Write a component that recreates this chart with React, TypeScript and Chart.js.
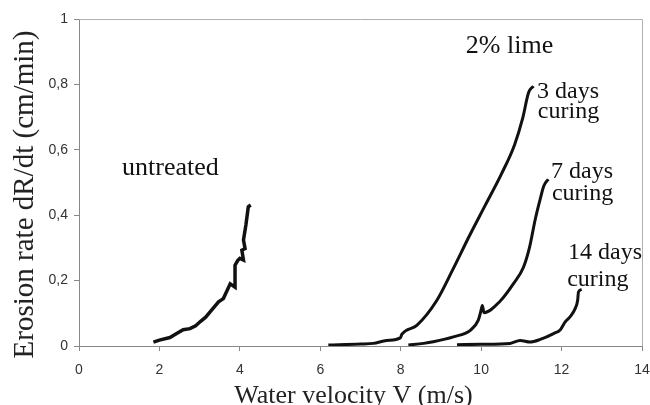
import React, { useEffect, useRef } from "react";
import { Chart, registerables } from "chart.js";

Chart.register(...registerables);

// ---- data ----
const untreatedV = [1.85, 2.0, 2.26, 2.45, 2.59, 2.76, 2.9, 3.01, 3.15, 3.26, 3.47, 3.59, 3.76, 3.88, 3.88, 3.95, 4.0, 4.09, 4.05, 4.13, 4.09, 4.15, 4.21, 4.27];
const untreatedRate = [0.012, 0.018, 0.026, 0.04, 0.05, 0.053, 0.062, 0.074, 0.088, 0.104, 0.135, 0.145, 0.19, 0.18, 0.247, 0.262, 0.268, 0.263, 0.293, 0.298, 0.324, 0.37, 0.426, 0.431];

const days3V = [6.2, 7.0, 7.32, 7.65, 7.99, 8.03, 8.4, 8.9, 9.3, 9.7, 10.1, 10.5, 10.83, 11.03, 11.18, 11.3];
const days3Rate = [0.003, 0.006, 0.008, 0.017, 0.025, 0.036, 0.063, 0.14, 0.235, 0.335, 0.43, 0.525, 0.615, 0.695, 0.775, 0.795];

const days7V = [8.19, 8.57, 8.81, 9.31, 9.73, 9.93, 9.99, 10.03, 10.07, 10.47, 10.8, 11.05, 11.2, 11.35, 11.47, 11.56, 11.67];
const days7Rate = [0.003, 0.008, 0.013, 0.028, 0.048, 0.079, 0.105, 0.124, 0.102, 0.137, 0.19, 0.24, 0.3, 0.39, 0.45, 0.49, 0.51];

const days14V = [9.4, 10.0, 10.72, 10.97, 11.22, 11.47, 11.8, 11.97, 12.09, 12.21, 12.34, 12.4, 12.42, 12.5];
const days14Rate = [0.004, 0.005, 0.008, 0.017, 0.012, 0.02, 0.038, 0.05, 0.074, 0.089, 0.115, 0.14, 0.165, 0.173];

const xTicks = [0, 2, 4, 6, 8, 10, 12, 14];
const yTickLabels = ["0", "0,2", "0,4", "0,6", "0,8", "1"];

const xTitle = "Water velocity V (m/s)";
const yTitle = "Erosion rate dR/dt (cm/min)";

// annotation texts with their anchor in data coordinates (left, baseline)
const noteTexts = ["untreated", "2% lime", "3 days", "curing", "7 days", "curing", "14 days", "curing"];
const noteX = [1.07, 9.62, 11.39, 11.41, 11.74, 11.76, 12.16, 12.14];
const noteY = [0.522, 0.897, 0.759, 0.698, 0.514, 0.446, 0.266, 0.183];
const noteSizes = [26, 26, 24, 24, 24, 24, 24, 24];

const toPoints = (xs: number[], ys: number[]) => xs.map((x, i) => ({ x, y: ys[i] }));

const SERIF = "'Liberation Serif', 'DejaVu Serif', serif";
const SANS = "'Liberation Sans', Arial, sans-serif";

const textPlugin = {
  id: "textPlugin",
  afterDraw(chart: any) {
    const { ctx, chartArea, scales } = chart;
    ctx.save();
    // plot box (top and right border)
    ctx.strokeStyle = "#b0b0b0";
    ctx.lineWidth = 1;
    ctx.beginPath();
    ctx.moveTo(chartArea.left, chartArea.top + 0.5);
    ctx.lineTo(chartArea.right + 0.5, chartArea.top + 0.5);
    ctx.lineTo(chartArea.right + 0.5, chartArea.bottom);
    ctx.stroke();

    ctx.fillStyle = "#111";
    ctx.textBaseline = "alphabetic";
    ctx.textAlign = "left";
    noteTexts.forEach((t, i) => {
      ctx.font = `${noteSizes[i]}px ${SERIF}`;
      ctx.fillText(t, scales.x.getPixelForValue(noteX[i]), scales.y.getPixelForValue(noteY[i]));
    });

    // axis titles
    ctx.fillStyle = "#222";
    ctx.font = `26px ${SERIF}`;
    ctx.textAlign = "center";
    ctx.fillText(xTitle, (chartArea.left + chartArea.right) / 2 - 7, chartArea.bottom + 57);

    ctx.translate(33, (chartArea.top + chartArea.bottom) / 2 + 12);
    ctx.rotate(-Math.PI / 2);
    ctx.font = `29px ${SERIF}`;
    ctx.fillText(yTitle, 0, 0);
    ctx.restore();
  },
};

export default function App() {
  const ref = useRef<HTMLCanvasElement | null>(null);

  useEffect(() => {
    document.body.style.margin = "0";
    if (!ref.current) return;
    const lineStyle = {
      borderColor: "#111",
      borderWidth: 3,
      pointRadius: 0,
      showLine: true,
      fill: false,
    };
    const chart = new Chart(ref.current, {
      type: "scatter",
      data: {
        datasets: [
          { label: "untreated", data: toPoints(untreatedV, untreatedRate), ...lineStyle, borderWidth: 3.5, tension: 0 },
          { label: "3 days curing", data: toPoints(days3V, days3Rate), ...lineStyle, cubicInterpolationMode: "monotone" },
          { label: "7 days curing", data: toPoints(days7V, days7Rate), ...lineStyle, cubicInterpolationMode: "monotone" },
          { label: "14 days curing", data: toPoints(days14V, days14Rate), ...lineStyle, cubicInterpolationMode: "monotone" },
        ],
      },
      options: {
        animation: false,
        responsive: false,
        devicePixelRatio: 1,
        layout: { padding: { top: 19, right: 8, left: 0, bottom: 0 } },
        plugins: { legend: { display: false }, tooltip: { enabled: false }, title: { display: false } },
        scales: {
          x: {
            type: "linear",
            min: 0,
            max: 14,
            afterBuildTicks: (axis: any) => {
              axis.ticks = xTicks.map((v) => ({ value: v }));
            },
            afterFit: (axis: any) => {
              axis.height = 59;
              axis.paddingRight = 0;
              axis.paddingLeft = 0;
            },
            grid: { display: true, drawOnChartArea: false, drawTicks: true, tickLength: 5, color: "#888" },
            border: { display: true, color: "#888" },
            ticks: { color: "#333", font: { family: SANS, size: 14 }, padding: 11, maxRotation: 0 },
          },
          y: {
            type: "linear",
            min: 0,
            max: 1,
            afterBuildTicks: (axis: any) => {
              axis.ticks = yTickLabels.map((_, i) => ({ value: i * 0.2 }));
            },
            afterFit: (axis: any) => {
              axis.width = 79;
              axis.paddingTop = 0;
              axis.paddingBottom = 0;
            },
            grid: { display: true, drawOnChartArea: false, drawTicks: true, tickLength: 5, color: "#888" },
            border: { display: true, color: "#888" },
            ticks: {
              color: "#333",
              font: { family: SANS, size: 14 },
              padding: 6,
              callback: (_v: any, i: number) => yTickLabels[i],
            },
          },
        },
      },
      plugins: [textPlugin],
    });
    return () => chart.destroy();
  }, []);

  return <canvas ref={ref} width={650} height={405} style={{ display: "block" }} />;
}
